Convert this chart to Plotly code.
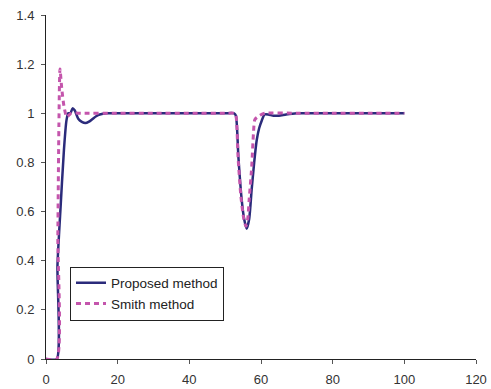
import plotly.graph_objects as go

# Proposed method response
prop_t = [0, 3, 3.2, 4, 5, 5.7, 6.2, 6.8, 7.4, 8, 9, 10, 11, 12, 13, 14, 15, 17, 20,
          30, 40, 50, 52.5, 53, 53.7, 54.6, 55.3, 56, 56.7, 57.4, 58.1, 58.8, 59.5,
          60.2, 61, 62, 63.5, 65, 67, 70, 80, 90, 100]
prop_y = [0, 0, 0.38, 0.6, 0.85, 0.97, 1.0, 1.0, 1.02, 1.012, 0.978, 0.965, 0.96,
          0.966, 0.977, 0.988, 0.995, 1.0, 1.0, 1.0, 1.0, 1.0, 1.0, 0.99, 0.82, 0.65,
          0.57, 0.53, 0.57, 0.69, 0.8, 0.89, 0.94, 0.97, 0.995, 0.995, 0.99, 0.99,
          0.995, 1.0, 1.0, 1.0, 1.0]

# Smith predictor response
smith_t = [0, 3, 3.3, 3.6, 3.9, 4.4, 5.0, 5.8, 7, 10, 20, 30, 40, 50, 52.5, 53,
           53.6, 54.4, 55.2, 55.8, 56.3, 56.7, 57.4, 57.9, 58.3, 59.5, 61, 70, 80,
           90, 100]
smith_y = [0, 0, 0.5, 0.95, 1.18, 1.1, 1.03, 0.985, 1.0, 1.0, 1.0, 1.0, 1.0, 1.0,
           1.0, 0.99, 0.82, 0.66, 0.57, 0.54, 0.57, 0.65, 0.78, 0.92, 0.975, 0.99,
           1.0, 1.0, 1.0, 1.0, 1.0]

x_ticks = [0, 20, 40, 60, 80, 100, 120]
y_ticks = [0, 0.2, 0.4, 0.6, 0.8, 1, 1.2, 1.4]
y_labels = ["0", "0.2", "0.4", "0.6", "0.8", "1", "1.2", "1.4"]

FONT = "Arial, Liberation Sans, sans-serif"

fig = go.Figure()
fig.add_trace(go.Scatter(
    x=prop_t, y=prop_y, mode="lines", name="Proposed method",
    line=dict(color="#2B2B7B", width=2.5, shape="spline", smoothing=0.6),
))
fig.add_trace(go.Scatter(
    x=smith_t, y=smith_y, mode="lines", name="Smith method",
    line=dict(color="#C455AC", width=3, dash="5px,4px", shape="spline", smoothing=0.6),
))

axis_common = dict(
    showgrid=False, zeroline=False, showline=True, linecolor="#222222",
    linewidth=1, ticks="outside", ticklen=4, tickcolor="#555555",
    tickfont=dict(family=FONT, size=13, color="#333333"),
    automargin=False,
)
fig.update_xaxes(range=[0, 120], tickvals=x_ticks, ticklabelstandoff=4, **axis_common)
fig.update_yaxes(range=[0, 1.4], tickvals=y_ticks, ticktext=y_labels,
                 ticklabelstandoff=4, **axis_common)

fig.update_layout(
    width=491, height=389,
    margin=dict(l=46, r=15, t=15, b=30),
    paper_bgcolor="white", plot_bgcolor="white",
    showlegend=True,
    legend=dict(
        x=(70 - 46) / 430, y=(359.3 - 266.7) / 344.6,
        xanchor="left", yanchor="top",
        bgcolor="white", bordercolor="#222222", borderwidth=1,
        font=dict(family=FONT, size=13.5, color="#222222"),
        tracegroupgap=0, itemwidth=30,
    ),
)

fig.write_html("out.html")
